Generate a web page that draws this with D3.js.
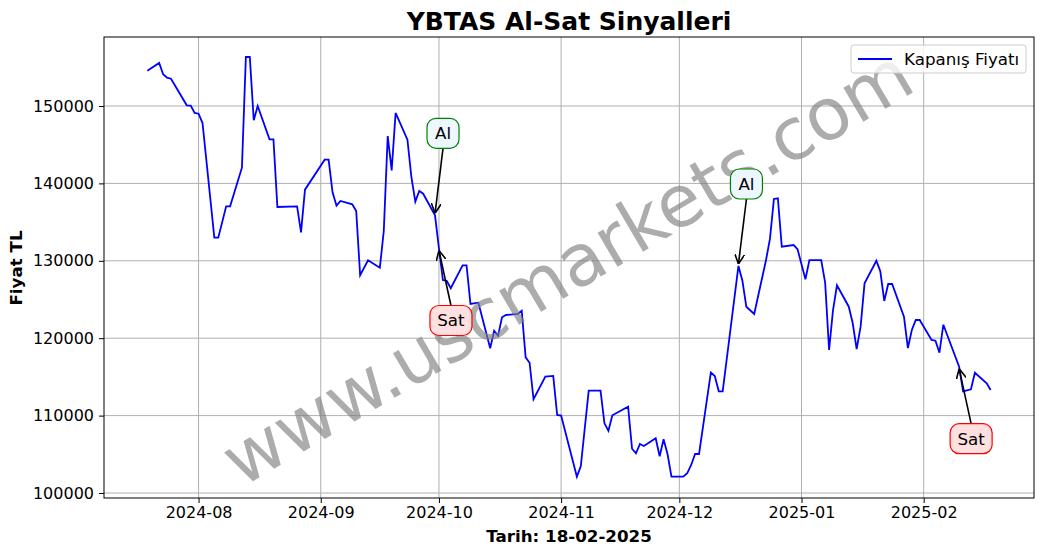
<!DOCTYPE html>
<html><head><meta charset="utf-8">
<script src="https://cdn.jsdelivr.net/npm/d3@7"></script>
<style>body{margin:0;background:#fff}svg{font-family:"DejaVu Sans",sans-serif}</style>
</head><body><svg id="c" width="1044" height="554"></svg>
<script>
const dates = ["2024-07-19","2024-07-22","2024-07-23","2024-07-24","2024-07-25","2024-07-29","2024-07-30","2024-07-31","2024-08-01","2024-08-02",
"2024-08-05","2024-08-06","2024-08-08","2024-08-09","2024-08-12","2024-08-13","2024-08-14","2024-08-15","2024-08-16","2024-08-19",
"2024-08-20","2024-08-21","2024-08-26","2024-08-27","2024-08-28","2024-09-02","2024-09-03","2024-09-04","2024-09-05","2024-09-06",
"2024-09-09","2024-09-10","2024-09-11","2024-09-13","2024-09-16","2024-09-17","2024-09-18","2024-09-19","2024-09-20","2024-09-23",
"2024-09-24","2024-09-25","2024-09-26","2024-09-27","2024-09-30","2024-10-01","2024-10-02","2024-10-03","2024-10-04","2024-10-07",
"2024-10-08","2024-10-09","2024-10-11","2024-10-14","2024-10-15","2024-10-16","2024-10-17","2024-10-18","2024-10-21","2024-10-22",
"2024-10-23","2024-10-24","2024-10-25","2024-10-28","2024-10-30","2024-10-31","2024-11-01","2024-11-05","2024-11-06","2024-11-08",
"2024-11-11","2024-11-12","2024-11-13","2024-11-14","2024-11-18","2024-11-19","2024-11-20","2024-11-21","2024-11-22","2024-11-25",
"2024-11-26","2024-11-27","2024-11-28","2024-11-29","2024-12-02","2024-12-03","2024-12-04","2024-12-05","2024-12-06","2024-12-09",
"2024-12-10","2024-12-11","2024-12-12","2024-12-16","2024-12-17","2024-12-18","2024-12-20","2024-12-23","2024-12-24","2024-12-25",
"2024-12-26","2024-12-27","2024-12-30","2024-12-31","2025-01-02","2025-01-03","2025-01-06","2025-01-07","2025-01-08","2025-01-09",
"2025-01-10","2025-01-13","2025-01-14","2025-01-15","2025-01-16","2025-01-17","2025-01-20","2025-01-21","2025-01-22","2025-01-23",
"2025-01-24","2025-01-27","2025-01-28","2025-01-29","2025-01-30","2025-01-31","2025-02-03","2025-02-04","2025-02-05","2025-02-06",
"2025-02-10","2025-02-11","2025-02-13","2025-02-14","2025-02-17","2025-02-18"];
const closes = [154560,155560,154100,153660,153530,150090,150040,149100,149000,147800,
132990,132990,137040,137040,142030,156330,156330,148150,150000,145700,
145700,136950,137040,133680,139190,143060,143060,138850,137120,137730,
137300,136430,128130,130070,129110,133850,146120,141690,149100,145650,
140830,137640,139020,138670,135880,131590,127520,127390,126450,129420,
129420,124420,124590,118700,120970,120320,122700,123000,123130,123550,
117530,116830,112110,115030,115120,110080,110000,102110,103490,113220,
113220,109000,108050,110040,111150,105720,105130,106330,106070,107070,
104740,106940,105040,102110,102110,102550,103620,105040,105040,115570,
115120,113140,113140,129330,127430,124070,123130,130100,132860,137990,
138080,131820,132040,131490,127610,130100,130100,127170,118480,123640,
126830,124070,121930,118600,121490,127090,130010,128640,124810,127000,
127000,122780,118730,121060,122350,122350,119770,119680,118130,121740,
116320,113140,113400,115540,114170,113310];
const signalDates = ["2024-09-30","2024-10-01","2024-12-16","2025-02-10"];
const signalTypes = ["Al","Sat","Al","Sat"];
const yTicks = [100000,110000,120000,130000,140000,150000];
const xTickDates = ["2024-08-01","2024-09-01","2024-10-01","2024-11-01","2024-12-01","2025-01-01","2025-02-01"];

const P = d3.timeParse("%Y-%m-%d");
const data = dates.map((d,i)=>({d:P(d),v:closes[i]}));
const svg = d3.select("#c");
const L=104,R=1034,T=37,B=498;
const x = d3.scaleTime().range([L,R])
 .domain([d3.timeDay.offset(P("2024-08-01"),-(198-L)/3.93), d3.timeDay.offset(P("2024-08-01"),(R-198)/3.93)]);
const y = d3.scaleLinear().domain([100000-(498-493)/7.74*1000, 150000+(106-37)/7.74*1000]).range([B,T]);

const grid = svg.append("g");
xTickDates.forEach(t=>grid.append("line").attr("x1",x(P(t))).attr("x2",x(P(t))).attr("y1",T).attr("y2",B).attr("stroke","#b0b0b0").attr("stroke-width",1));
yTicks.forEach(t=>grid.append("line").attr("x1",L).attr("x2",R).attr("y1",y(t)).attr("y2",y(t)).attr("stroke","#b0b0b0").attr("stroke-width",1));

const xa = svg.append("g").attr("transform",`translate(0,${B})`)
 .call(d3.axisBottom(x).tickValues(xTickDates.map(P)).tickFormat(d3.timeFormat("%Y-%m")).tickSizeOuter(0).tickSize(5).tickPadding(4));
const ya = svg.append("g").attr("transform",`translate(${L},0)`)
 .call(d3.axisLeft(y).tickValues(yTicks).tickFormat(d3.format("d")).tickSizeOuter(0).tickSize(5).tickPadding(5));
[xa,ya].forEach(a=>{a.selectAll("text").attr("font-size",16).attr("fill","#000").attr("font-family","DejaVu Sans");a.select(".domain").remove();});

svg.append("path").datum(data).attr("fill","none").attr("stroke","#0000ff").attr("stroke-width",1.8)
 .attr("d",d3.line().x(d=>x(d.d)).y(d=>y(d.v)));

svg.append("text").attr("transform","translate(570,272) rotate(-30.5)").attr("text-anchor","middle").attr("dominant-baseline","middle")
 .attr("font-size",72).attr("fill","#808080").attr("fill-opacity",0.65).text("www.uscmarkets.com");

svg.append("defs").append("marker").attr("id","ah").attr("viewBox","0 0 10 10").attr("refX",10).attr("refY",5)
 .attr("markerWidth",10).attr("markerHeight",10).attr("markerUnits","userSpaceOnUse").attr("orient","auto")
 .append("path").attr("d","M0,0 L10,5 L0,10").attr("fill","none").attr("stroke","#000").attr("stroke-width",1.6);

signalDates.forEach((sd,i)=>{
  const dt=P(sd), v=closes[dates.indexOf(sd)];
  const px=x(dt), py=y(v), al=signalTypes[i]==="Al";
  const bx=px+(al?8:12), by=py+(al?-82:72);
  const w=al?32:42,h=30;
  svg.append("line").attr("x1",bx).attr("y1",al?by+h/2:by-h/2).attr("x2",px).attr("y2",py+(al?-2:2))
    .attr("stroke","#000").attr("stroke-width",1.6).attr("marker-end","url(#ah)");
  svg.append("rect").attr("x",bx-w/2).attr("y",by-h/2).attr("width",w).attr("height",h).attr("rx",9)
    .attr("fill",al?"#eef6ff":"#ffe0e0").attr("stroke",al?"green":"red").attr("stroke-width",1.2);
  svg.append("text").attr("x",bx).attr("y",by+6).attr("text-anchor","middle").attr("font-size",16.7).text(signalTypes[i]);
});

svg.append("rect").attr("x",L).attr("y",T).attr("width",R-L).attr("height",B-T).attr("fill","none").attr("stroke","#000").attr("stroke-width",1);

svg.append("text").attr("x",569).attr("y",30).attr("text-anchor","middle").attr("font-size",25).attr("font-weight","bold").text("YBTAS Al-Sat Sinyalleri");
svg.append("text").attr("x",569).attr("y",542).attr("text-anchor","middle").attr("font-size",16.7).attr("font-weight","bold").text("Tarih: 18-02-2025");
svg.append("text").attr("transform","translate(22,268) rotate(-90)").attr("text-anchor","middle").attr("font-size",16.7).attr("font-weight","bold").text("Fiyat TL");

const lg=svg.append("g");
lg.append("rect").attr("x",851).attr("y",45).attr("width",175).attr("height",28).attr("rx",3).attr("fill","#fff").attr("fill-opacity",0.8).attr("stroke","#ccc");
lg.append("line").attr("x1",858).attr("x2",892).attr("y1",59).attr("y2",59).attr("stroke","#0000ff").attr("stroke-width",1.8);
lg.append("text").attr("x",904).attr("y",65).attr("font-size",16.7).text("Kapanış Fiyatı");
</script></body></html>
